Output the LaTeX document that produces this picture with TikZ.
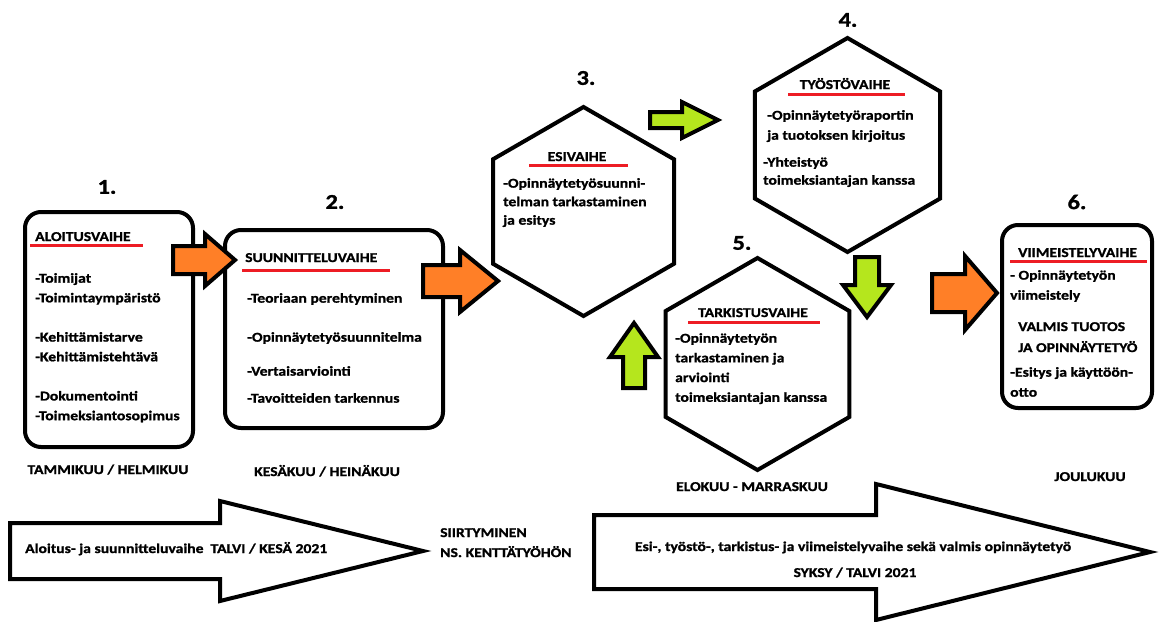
\documentclass[tikz,border=0pt]{standalone}
\usepackage{fontspec}
\setmainfont{Carlito}[FakeStretch=1.16, BoldFeatures={FakeBold=1.2}]
\usepackage{tikz}

\definecolor{paintorange}{HTML}{FF7F27}
\definecolor{paintlime}{HTML}{B5E61D}
\definecolor{paintred}{HTML}{ED1C24}

\NewDocumentCommand{\drawhex}{m m m m}{
    \def\hexX{#1}
    \def\hexY{#2}
    \def\hexR{#3}
    
    \coordinate (#4) at (\hexX,\hexY);
    \draw[phaseline, shift={(\hexX,\hexY)}] (90:\hexR) -- (150:\hexR) -- (210:\hexR) -- (270:\hexR) -- (330:\hexR) -- (30:\hexR) -- cycle;
}

% tail at (#1,#2), turned by #3, then length, half shaft, half head, head length and fill
\NewDocumentCommand{\blockarrow}{m m m m m m m m}{
    \def\arrL{#4}
    \def\arrS{#5}
    \def\arrH{#6}
    \def\arrT{#7}
    
    \draw[arrowline, fill=#8, shift={(#1,#2)}, rotate=#3]
        (0,-\arrS) -- ({\arrL-\arrT},-\arrS) -- ({\arrL-\arrT},-\arrH) -- (\arrL,0)
        -- ({\arrL-\arrT},\arrH) -- ({\arrL-\arrT},\arrS) -- (0,\arrS) -- cycle;
}

\begin{document}
\begin{tikzpicture}[x=1pt, y=-1pt,
    phase/.style={draw, line width=4pt, rounded corners=16pt, inner sep=0pt},
    phaseline/.style={line width=4pt},
    arrowline/.style={line width=4pt},
    redline/.style={draw=paintred, line width=3pt},
    title/.style={font=\fontsize{13.5}{16}\selectfont\bfseries, inner sep=0pt, anchor=base west},
    items/.style={font=\fontsize{13.5}{19.7}\selectfont\bfseries, inner sep=0pt, align=left, anchor=north west},
    number/.style={font=\fontsize{21}{24}\selectfont\bfseries, inner sep=0pt},
    month/.style={font=\fontsize{13.5}{16}\selectfont\bfseries, inner sep=0pt, anchor=base}]
        \path[use as bounding box, fill=white] (0,0) rectangle (1161,621);

        % 1. aloitus
        \node[number] (num1) at (107,187) {1.};
        \node[phase, minimum width=168pt, minimum height=235pt] (box1) at (109,329.5) {};
        \node[title] (title1) at (35,241) {ALOITUSVAIHE};
        \draw[redline] (30,245) -- (143,245);
        \node[items] (items1) at (35,273) {-Toimijat\\-Toimintaympäristö\\[19.5pt]-Kehittämistarve\\-Kehittämistehtävä\\[19.5pt]-Dokumentointi\\-Toimeksiantosopimus};
        \node[month] (month1) at (108,474) {TAMMIKUU / HELMIKUU};

        % 2. suunnittelu
        \node[number] (num2) at (335,202) {2.};
        \node[phase, minimum width=218pt, minimum height=198pt] (box2) at (334,329) {};
        \node[title] (title2) at (245,262) {SUUNNITTELUVAIHE};
        \draw[redline] (242,270) -- (390,270);
        \node[items, font=\fontsize{13.5}{20}\selectfont\bfseries] (items2) at (247,293) {-Teoriaan perehtyminen\\[19pt]-Opinnäytetyösuunnitelma\\[14pt]-Vertaisarviointi\\[7pt]-Tavoitteiden tarkennus};
        \node[month] (month2) at (327,476) {KESÄKUU / HEINÄKUU};

        % 3. esivaihe
        \node[number] (num3) at (586,78) {3.};
        \drawhex{583.5}{211.5}{104.5}{hex3}
        \node[title, anchor=base] (title3) at (577,161) {ESIVAIHE};
        \draw[redline] (529,165) -- (628,165);
        \node[items, font=\fontsize{13.5}{18.5}\selectfont\bfseries] (items3) at (503,178) {-Opinnäytetyösuunni-\\telman tarkastaminen\\ja esitys};

        % 4. työstö
        \node[number] (num4) at (848,20) {4.};
        \drawhex{847.5}{145}{107}{hex4}
        \node[title, anchor=base] (title4) at (845,89) {TYÖSTÖVAIHE};
        \draw[redline] (788,94) -- (905,94);
        \node[items, font=\fontsize{13.5}{20}\selectfont\bfseries] (items4) at (767,110) {-Opinnäytetyöraportin\\ja tuotoksen kirjoitus};
        \node[items, font=\fontsize{13.5}{18}\selectfont\bfseries] (items4b) at (763,157) {-Yhteistyö\\toimeksiantajan kanssa};

        % 5. tarkistus
        \node[number] (num5) at (742,243) {5.};
        \drawhex{757.5}{364}{106}{hex5}
        \node[title, anchor=base] (title5) at (753,317) {TARKISTUSVAIHE};
        \draw[redline] (688,322) -- (820,322);
        \node[items] (items5) at (675,333) {-Opinnäytetyön\\tarkastaminen ja\\arviointi\\toimeksiantajan kanssa};
        \node[month] (month5) at (752,491) {ELOKUU - MARRASKUU};

        % 6. viimeistely
        \node[number] (num6) at (1077,202) {6.};
        \node[phase, minimum width=150pt, minimum height=183pt] (box6) at (1077,316.5) {};
        \node[title] (title6) at (1018,257) {VIIMEISTELYVAIHE};
        \draw[redline] (1010,261) -- (1147,261);
        \node[items, font=\fontsize{13.5}{20}\selectfont\bfseries] (items6) at (1010,270) {- Opinnäytetyön\\viimeistely};
        \node[items, font=\fontsize{13.5}{21}\selectfont\bfseries] (items6b) at (1018,322) {VALMIS TUOTOS\\JA OPINNÄYTETYÖ};
        \node[items, font=\fontsize{13.5}{20}\selectfont\bfseries] (items6c) at (1010,367) {-Esitys ja käyttöön-\\otto};
        \node[month] (month6) at (1090,481) {JOULUKUU};

        % arrows between phases
        \blockarrow{173}{260}{0}{62}{14}{26}{30}{paintorange}
        \blockarrow{423}{281}{0}{75}{16}{31}{38}{paintorange}
        \blockarrow{932}{293}{0}{65}{19}{37}{32}{paintorange}
        \blockarrow{650}{120}{0}{68}{8}{18}{36}{paintlime}
        \blockarrow{634}{388}{90}{65}{11}{24}{34}{paintlime}
        \blockarrow{867}{257}{-90}{60}{12}{24}{32}{paintlime}

        % time line
        \blockarrow{10}{551}{0}{413}{28}{50}{203}{white}
        \node[title] (spring) at (25,553) {Aloitus- ja suunnitteluvaihe\ \ TALVI / KESÄ 2021};
        \node[items, font=\fontsize{13.5}{20}\selectfont\bfseries] (move) at (440,528) {SIIRTYMINEN\\NS. KENTTÄTYÖHÖN};
        \blockarrow{594}{552}{0}{556}{37}{68}{274}{white}
        \node[month] (autumn) at (853,551) {Esi-, työstö-, tarkistus- ja viimeistelyvaihe sekä valmis opinnäytetyö};
        \node[month] (autumnyear) at (855,577) {SYKSY / TALVI 2021};

    \end{tikzpicture}
\end{document}
